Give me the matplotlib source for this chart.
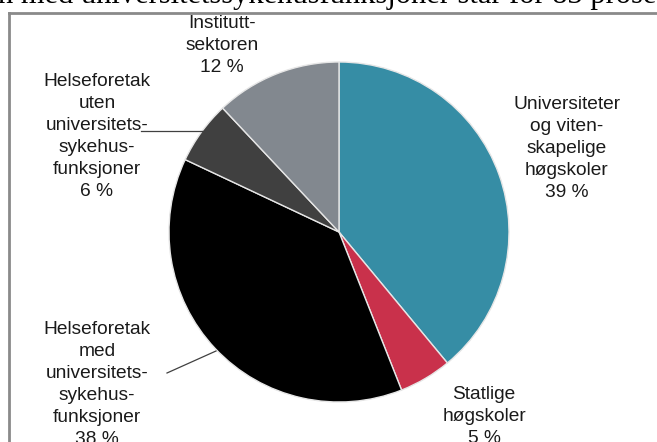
import matplotlib
matplotlib.use("Agg")
import matplotlib.pyplot as plt

categories = ["Universiteter\nog viten-\nskapelige\nhøgskoler",
              "Statlige\nhøgskoler",
              "Helseforetak\nmed\nuniversitets-\nsykehus-\nfunksjoner",
              "Helseforetak\nuten\nuniversitets-\nsykehus-\nfunksjoner",
              "Institutt-\nsektoren"]
values = [39, 5, 38, 6, 12]
colors = ["#368DA5", "#C9314B", "#000000", "#404040", "#82888F"]

W, H = 657, 442
fig = plt.figure(figsize=(W / 100, H / 100), dpi=100)
ax = fig.add_axes([0, 0, 1, 1])

def py(y):
    return H - y

cx, cy, r = 339, py(232), 170
ax.pie(values, colors=colors, startangle=90, counterclock=False,
       center=(cx, cy), radius=r,
       wedgeprops=dict(edgecolor="#e6e6e6", linewidth=1.0))
ax.set_xlim(0, W)
ax.set_ylim(0, H)
ax.set_aspect("equal")
ax.axis("off")

font = dict(family="Liberation Sans", fontsize=13.8, color="#1a1a1a",
            ha="center", va="top", linespacing=1.38)

label_pos = [(567, 96), (484, 386), (97, 321), (97, 73), (222, 15)]
for cat, val, (x, y) in zip(categories, values, label_pos):
    ax.text(x, py(y), f"{cat}\n{val} %", **font)

# leader lines
ax.plot([141, 206], [py(131), py(131)], color="#404040", lw=0.9)
ax.plot([167, 216], [py(373), py(351)], color="#404040", lw=0.9)

# frame of the document figure
ax.plot([8.5, 8.5], [0, py(13)], color="#8a8a8a", lw=2, clip_on=False)
ax.plot([8.5, W], [py(13), py(13)], color="#8a8a8a", lw=2, clip_on=False)

# cut-off body text above the figure
ax.text(-2, py(3), "n med universitetssykehusfunksjoner står for 83 prosent",
        family="Liberation Serif", fontsize=22, color="black",
        ha="left", va="baseline")

fig.savefig("out.png", dpi=100)
